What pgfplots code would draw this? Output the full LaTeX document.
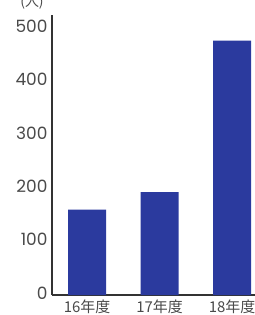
\documentclass[border=0pt]{standalone}
\usepackage{pgfplots}
\pgfplotsset{compat=1.18}
\usepackage{fontspec}
\setmainfont{Poppins}
\newfontfamily\cjk{Noto Sans CJK JP}
\definecolor{barblue}{HTML}{2B3A9E}
\definecolor{txt}{HTML}{4A4A4A}
\begin{document}
\begin{tikzpicture}[x=1bp,y=1bp]
\begin{axis}[
  at={(0,0)}, anchor=south west,
  scale only axis,
  width=203bp, height=280bp,
  xmin=-0.483, xmax=2.317,
  ymin=0, ymax=525,
  axis lines*=left,
  axis line style={line width=1.2pt, black!80},
  xtick=data,
  xticklabels={16年度,17年度,18年度},
  ytick={0,100,200,300,400,500},
  major tick length=0pt,
  /pgf/number format/assume math mode=true,
  yticklabel style={font=\fontsize{17}{17}\selectfont, text=txt, xshift=-1bp, yshift=2bp},
  xticklabel style={font=\cjk\fontsize{15}{15}\selectfont, text=txt, yshift=-1bp},
  clip=false,
]
\addplot[ybar, bar width=0.524, fill=barblue, draw=none] coordinates {(0,160) (1,193) (2,477)};
\end{axis}
\node[anchor=south, font=\cjk\fontsize{14}{14}\selectfont, text=txt] at (-20bp,282bp) {(人)};
\pgfresetboundingbox
\path (-52bp,-20bp) rectangle (203bp,295bp);
\end{tikzpicture}
\end{document}
